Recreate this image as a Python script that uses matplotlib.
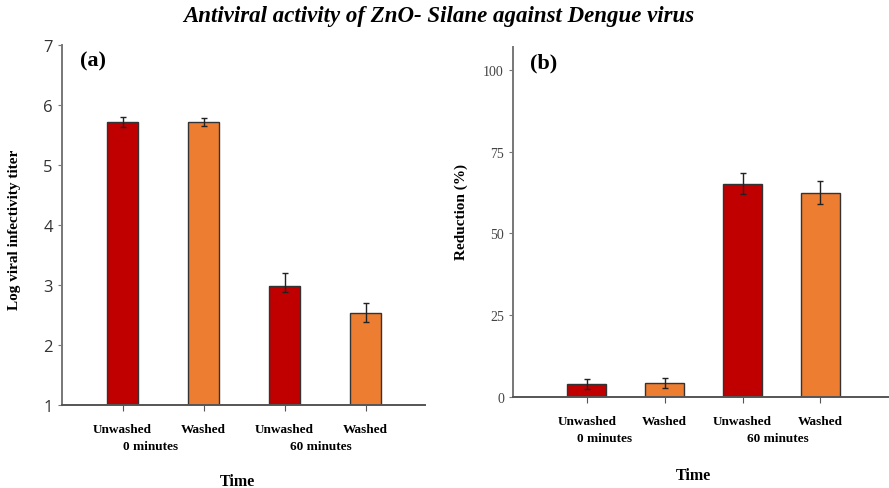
"""Antiviral activity of ZnO-Silane against Dengue virus: two bar panels."""

import matplotlib

matplotlib.use("Agg")
import matplotlib.pyplot as plt

# --- Data ---
conditions = ["Unwashed", "Washed", "Unwashed", "Washed"]
groups = ["0 minutes", "60 minutes"]

log_titer = [5.72, 5.72, 2.98, 2.53]
log_titer_err_low = [0.08, 0.07, 0.10, 0.15]
log_titer_err_high = [0.08, 0.07, 0.22, 0.17]

reduction = [4.0, 4.3, 65.2, 62.5]
reduction_err = [1.5, 1.5, 3.2, 3.4]

bar_colors = ["#C00000", "#ED7D31", "#C00000", "#ED7D31"]

SERIF = "Liberation Serif"

fig = plt.figure(figsize=(8.89, 4.89), dpi=100)

fig.text(0.494, 0.966, "Antiviral activity of ZnO- Silane against Dengue virus",
         ha="center", va="center", fontsize=16.5, fontweight="bold",
         style="italic", family=SERIF)

x = [1, 2, 3, 4]


def style_axes(ax, spine_color):
    for side in ("top", "right"):
        ax.spines[side].set_visible(False)
    ax.spines["left"].set_color(spine_color)
    ax.spines["left"].set_linewidth(1.4)
    ax.spines["bottom"].set_color("#555555")
    ax.spines["bottom"].set_linewidth(1.4)
    ax.tick_params(axis="x", length=4, color="#555555", pad=9)
    ax.tick_params(axis="y", length=3, color=spine_color)


# --- Panel (a) ---
ax_a = fig.add_axes([0.0697, 0.1697, 0.408, 0.736])
ax_a.bar(x, [v - 1 for v in log_titer], bottom=1, width=0.39,
         color=bar_colors, edgecolor="#333333", linewidth=1.0,
         yerr=[log_titer_err_low, log_titer_err_high],
         error_kw=dict(ecolor="#222222", elinewidth=1.0, capsize=2.5, capthick=1.0))
ax_a.set_xlim(0.25, 4.73)
ax_a.set_ylim(1, 7)
ax_a.set_yticks(range(1, 8))
ax_a.set_yticklabels([str(v) for v in range(1, 8)], fontsize=12,
                     family="Open Sans", color="#333333")
ax_a.set_xticks(x)
ax_a.set_xticklabels(conditions, fontsize=9.5, fontweight="bold", family=SERIF)
style_axes(ax_a, "#777777")
for i, g in enumerate(groups):
    ax_a.text(1.35 + 2.1 * i, -0.098, g, transform=ax_a.get_xaxis_transform(),
              ha="center", va="top", fontsize=9.5, fontweight="bold", family=SERIF)
ax_a.text(0.485, -0.19, "Time", transform=ax_a.transAxes, ha="center", va="top",
          fontsize=11.5, fontweight="bold", family=SERIF)
ax_a.set_ylabel("Log viral infectivity titer", fontsize=11, fontweight="bold",
                family=SERIF)
ax_a.yaxis.set_label_coords(-0.113, 0.49)
ax_a.text(0.05, 0.985, "(a)", transform=ax_a.transAxes, ha="left", va="top",
          fontsize=16, fontweight="bold", family=SERIF)

# --- Panel (b) ---
ax_b = fig.add_axes([0.577, 0.186, 0.422, 0.716])
ax_b.bar(x, reduction, width=0.5, color=bar_colors, edgecolor="#333333",
         linewidth=1.0, yerr=reduction_err,
         error_kw=dict(ecolor="#222222", elinewidth=1.0, capsize=2.5, capthick=1.0))
ax_b.set_xlim(0.05, 4.87)
ax_b.set_ylim(0, 107)
ax_b.set_yticks([0, 25, 50, 75, 100])
ax_b.set_yticklabels(["0", "25", "50", "75", "100"], fontsize=10,
                     family=SERIF, color="#444444")
ax_b.set_xticks(x)
ax_b.set_xticklabels(conditions, fontsize=9.5, fontweight="bold", family=SERIF)
style_axes(ax_b, "#777777")
for i, g in enumerate(groups):
    ax_b.text(1.23 + 2.22 * i, -0.1, g, transform=ax_b.get_xaxis_transform(),
              ha="center", va="top", fontsize=9.5, fontweight="bold", family=SERIF)
ax_b.text(0.48, -0.2, "Time", transform=ax_b.transAxes, ha="center", va="top",
          fontsize=11.5, fontweight="bold", family=SERIF)
ax_b.set_ylabel("Reduction (%)", fontsize=11, fontweight="bold", family=SERIF)
ax_b.yaxis.set_label_coords(-0.12, 0.53)
ax_b.text(0.045, 0.985, "(b)", transform=ax_b.transAxes, ha="left", va="top",
          fontsize=16, fontweight="bold", family=SERIF)

fig.savefig("out.png", dpi=100)
